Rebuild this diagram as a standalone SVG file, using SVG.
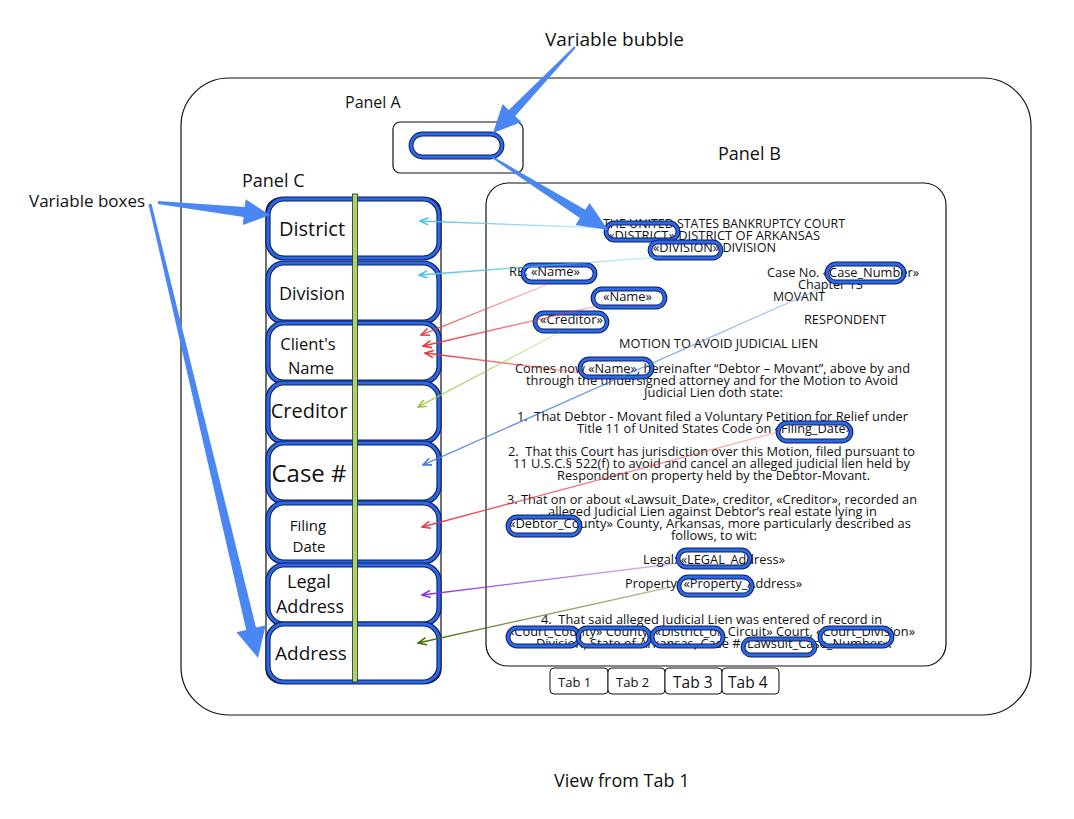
<svg xmlns="http://www.w3.org/2000/svg" width="1074" height="819" viewBox="0 0 1074 819">
<style>
text{font-family:"Open Sans","Noto Sans","Liberation Sans",sans-serif;fill:#111}
.lbl{font-size:18px}
.doc{font-size:12.5px}
.frame{fill:#fff;stroke:#111;stroke-width:1.2}
.bo{fill:none;stroke:#0b1f5e;stroke-width:4.8}
.bi{fill:none;stroke:#2f68e6;stroke-width:2.8}
.vbo{fill:#fff;stroke:#0b1f5e;stroke-width:5.2}
.vbi{fill:none;stroke:#2d66e2;stroke-width:3}
.big{fill:#4b87f2}
.tab{fill:#fff;stroke:#111;stroke-width:1}
.cn{fill:none;stroke-width:1.3}
</style>
<defs>
<linearGradient id="gLb" x1="0" y1="0" x2="1" y2="0"><stop offset="0" stop-color="#4fc3e8"/><stop offset="1" stop-color="#4fc3e8" stop-opacity="0.25"/></linearGradient>
<linearGradient id="gRd" x1="0" y1="0" x2="1" y2="0"><stop offset="0" stop-color="#e8383f"/><stop offset="1" stop-color="#e8383f" stop-opacity="0.3"/></linearGradient>
<linearGradient id="gGn" x1="0" y1="0" x2="1" y2="0"><stop offset="0" stop-color="#9cc63c"/><stop offset="1" stop-color="#9cc63c" stop-opacity="0.3"/></linearGradient>
<linearGradient id="gBl" x1="0" y1="0" x2="1" y2="0"><stop offset="0" stop-color="#3f76e0"/><stop offset="1" stop-color="#3f76e0" stop-opacity="0.3"/></linearGradient>
<linearGradient id="gPu" x1="0" y1="0" x2="1" y2="0"><stop offset="0" stop-color="#8e2fe0"/><stop offset="1" stop-color="#8e2fe0" stop-opacity="0.3"/></linearGradient>
<linearGradient id="gOl" x1="0" y1="0" x2="1" y2="0"><stop offset="0" stop-color="#466f0c"/><stop offset="1" stop-color="#466f0c" stop-opacity="0.35"/></linearGradient>
<marker id="mLb" markerUnits="userSpaceOnUse" markerWidth="12" markerHeight="12" viewBox="-9 -5 10 10" refX="0" refY="0" orient="auto"><path d="M-7,-3 L0,0 L-7,3" fill="none" stroke="#4fc3e8" stroke-width="1.3"/></marker>
<marker id="mRd" markerUnits="userSpaceOnUse" markerWidth="12" markerHeight="12" viewBox="-9 -5 10 10" refX="0" refY="0" orient="auto"><path d="M-7,-3 L0,0 L-7,3" fill="none" stroke="#e8383f" stroke-width="1.3"/></marker>
<marker id="mGn" markerUnits="userSpaceOnUse" markerWidth="12" markerHeight="12" viewBox="-9 -5 10 10" refX="0" refY="0" orient="auto"><path d="M-7,-3 L0,0 L-7,3" fill="none" stroke="#9cc63c" stroke-width="1.3"/></marker>
<marker id="mBl" markerUnits="userSpaceOnUse" markerWidth="12" markerHeight="12" viewBox="-9 -5 10 10" refX="0" refY="0" orient="auto"><path d="M-7,-3 L0,0 L-7,3" fill="none" stroke="#3f76e0" stroke-width="1.3"/></marker>
<marker id="mPu" markerUnits="userSpaceOnUse" markerWidth="12" markerHeight="12" viewBox="-9 -5 10 10" refX="0" refY="0" orient="auto"><path d="M-7,-3 L0,0 L-7,3" fill="none" stroke="#8e2fe0" stroke-width="1.3"/></marker>
<marker id="mOl" markerUnits="userSpaceOnUse" markerWidth="12" markerHeight="12" viewBox="-9 -5 10 10" refX="0" refY="0" orient="auto"><path d="M-7,-3 L0,0 L-7,3" fill="none" stroke="#466f0c" stroke-width="1.3"/></marker>
</defs>
<rect width="1074" height="819" fill="#fff"/>

<g id="outer-frame">
<rect class="frame" x="181" y="78" width="850" height="637" rx="48"/>
</g>

<g id="panel-a">
<text class="lbl" x="345" y="108" style="font-size:16px">Panel A</text>
<rect class="frame" x="393" y="122" width="130" height="51" rx="7"/>
<g id="variable-bubble-sample">
<rect class="bo" x="411" y="134" width="91" height="23" rx="11.5"/>
<rect class="bi" x="411" y="134" width="91" height="23" rx="11.5"/>
</g>
</g>

<g id="panel-b">
<text class="lbl" x="718" y="160">Panel B</text>
<rect class="frame" x="486" y="183" width="460" height="483" rx="22"/>
<g id="document-text" class="doc">
<text class="doc" x="603" y="228" textLength="242" lengthAdjust="spacingAndGlyphs">THE UNITED STATES BANKRUPTCY COURT</text>
<text class="doc" x="608" y="240" textLength="212" lengthAdjust="spacingAndGlyphs">«DISTRICT» DISTRICT OF ARKANSAS</text>
<text class="doc" x="653" y="252" textLength="123" lengthAdjust="spacingAndGlyphs">«DIVISION» DIVISION</text>
<text class="doc" x="509" y="276" textLength="71" lengthAdjust="spacingAndGlyphs">RE: «Name»</text>
<text class="doc" x="767" y="277" textLength="152" lengthAdjust="spacingAndGlyphs">Case No. «Case_Number»</text>
<text class="doc" x="798" y="289" textLength="65" lengthAdjust="spacingAndGlyphs">Chapter 13</text>
<text class="doc" x="603" y="301" textLength="49" lengthAdjust="spacingAndGlyphs">«Name»</text>
<text class="doc" x="773" y="301" textLength="52" lengthAdjust="spacingAndGlyphs">MOVANT</text>
<text class="doc" x="540" y="324" textLength="63" lengthAdjust="spacingAndGlyphs">«Creditor»</text>
<text class="doc" x="804" y="324" textLength="82" lengthAdjust="spacingAndGlyphs">RESPONDENT</text>
<text class="doc" x="619" y="348" textLength="199" lengthAdjust="spacingAndGlyphs">MOTION TO AVOID JUDICIAL LIEN</text>
<text class="doc" x="515" y="373" textLength="395" lengthAdjust="spacingAndGlyphs">Comes now «Name», hereinafter “Debtor – Movant”, above by and</text>
<text class="doc" x="526" y="385" textLength="372" lengthAdjust="spacingAndGlyphs">through the undersigned attorney and for the Motion to Avoid</text>
<text class="doc" x="644" y="397" textLength="139" lengthAdjust="spacingAndGlyphs">Judicial Lien doth state:</text>
<text class="doc" x="517" y="421" textLength="391" lengthAdjust="spacingAndGlyphs" xml:space="preserve">1.  That Debtor - Movant filed a Voluntary Petition for Relief under</text>
<text class="doc" x="577" y="433" textLength="275" lengthAdjust="spacingAndGlyphs">Title 11 of United States Code on «Filing_Date»</text>
<text class="doc" x="508" y="456" textLength="407" lengthAdjust="spacingAndGlyphs" xml:space="preserve">2.  That this Court has jurisdiction over this Motion, filed pursuant to</text>
<text class="doc" x="513" y="468" textLength="397" lengthAdjust="spacingAndGlyphs">11 U.S.C.§ 522(f) to avoid and cancel an alleged judicial lien held by</text>
<text class="doc" x="557" y="480" textLength="313" lengthAdjust="spacingAndGlyphs">Respondent on property held by the Debtor-Movant.</text>
<text class="doc" x="507" y="504" textLength="410" lengthAdjust="spacingAndGlyphs">3. That on or about «Lawsuit_Date», creditor, «Creditor», recorded an</text>
<text class="doc" x="548" y="516" textLength="329" lengthAdjust="spacingAndGlyphs">alleged Judicial Lien against Debtor’s real estate lying in</text>
<text class="doc" x="509" y="528" textLength="402" lengthAdjust="spacingAndGlyphs">«Debtor_County» County, Arkansas, more particularly described as</text>
<text class="doc" x="671" y="540" textLength="86" lengthAdjust="spacingAndGlyphs">follows, to wit:</text>
<text class="doc" x="643" y="564" textLength="142" lengthAdjust="spacingAndGlyphs">Legal: «LEGAL_Address»</text>
<text class="doc" x="625" y="588" textLength="177" lengthAdjust="spacingAndGlyphs">Property: «Property_Address»</text>
<text class="doc" x="541" y="624" textLength="341" lengthAdjust="spacingAndGlyphs" xml:space="preserve">4.  That said alleged Judicial Lien was entered of record in</text>
<text class="doc" x="508" y="636" textLength="407" lengthAdjust="spacingAndGlyphs">«Court_County» County, «District_or_Circuit» Court, «Court_Division»</text>
<text class="doc" x="536" y="648" textLength="356" lengthAdjust="spacingAndGlyphs">Division, State of Arkansas, Case #«Lawsuit_Case_Number».</text>
</g>
<g id="document-bubbles">
<rect class="bo" x="606" y="223" width="72" height="17" rx="8.5"/><rect class="bi" x="606" y="223" width="72" height="17" rx="8.5"/>
<rect class="bo" x="650" y="242" width="71" height="16" rx="8"/><rect class="bi" x="650" y="242" width="71" height="16" rx="8"/>
<rect class="bo" x="523" y="265" width="72" height="17" rx="8.5"/><rect class="bi" x="523" y="265" width="72" height="17" rx="8.5"/>
<rect class="bo" x="827" y="264" width="77" height="18" rx="9"/><rect class="bi" x="827" y="264" width="77" height="18" rx="9"/>
<rect class="bo" x="593" y="289" width="72" height="18" rx="9"/><rect class="bi" x="593" y="289" width="72" height="18" rx="9"/>
<rect class="bo" x="535" y="313" width="72" height="18" rx="9"/><rect class="bi" x="535" y="313" width="72" height="18" rx="9"/>
<rect class="bo" x="580" y="359" width="72" height="18" rx="9"/><rect class="bi" x="580" y="359" width="72" height="18" rx="9"/>
<rect class="bo" x="778" y="423" width="73" height="18" rx="9"/><rect class="bi" x="778" y="423" width="73" height="18" rx="9"/>
<rect class="bo" x="508" y="517" width="72" height="18" rx="9"/><rect class="bi" x="508" y="517" width="72" height="18" rx="9"/>
<rect class="bo" x="678" y="550" width="72" height="17" rx="8.5"/><rect class="bi" x="678" y="550" width="72" height="17" rx="8.5"/>
<rect class="bo" x="679" y="577" width="73" height="18" rx="9"/><rect class="bi" x="679" y="577" width="73" height="18" rx="9"/>
<rect class="bo" x="508" y="628" width="71" height="18" rx="9"/><rect class="bi" x="508" y="628" width="71" height="18" rx="9"/>
<rect class="bo" x="578" y="628" width="72" height="18" rx="9"/><rect class="bi" x="578" y="628" width="72" height="18" rx="9"/>
<rect class="bo" x="652" y="628" width="71" height="18" rx="9"/><rect class="bi" x="652" y="628" width="71" height="18" rx="9"/>
<rect class="bo" x="820" y="628" width="72" height="18" rx="9"/><rect class="bi" x="820" y="628" width="72" height="18" rx="9"/>
<rect class="bo" x="743" y="639" width="72" height="16" rx="8"/><rect class="bi" x="743" y="639" width="72" height="16" rx="8"/>
</g>
</g>

<g id="tabs">
<g id="tab-1"><rect class="tab" x="550" y="668" width="58" height="26" rx="4"/><text x="558" y="687" style="font-size:13px">Tab 1</text></g>
<g id="tab-2"><rect class="tab" x="608" y="668" width="57" height="26" rx="4"/><text x="616" y="687" style="font-size:13px">Tab 2</text></g>
<g id="tab-3"><rect class="tab" x="665" y="668" width="57" height="26" rx="4"/><text x="673" y="688" style="font-size:15.5px">Tab 3</text></g>
<g id="tab-4"><rect class="tab" x="722" y="668" width="57" height="26" rx="4"/><text x="728" y="688" style="font-size:15.5px">Tab 4</text></g>
</g>

<g id="panel-c">
<text class="lbl" x="242" y="187">Panel C</text>
<rect class="frame" x="266" y="198" width="175" height="485" rx="14"/>
<g id="box-district"><rect class="vbo" x="268" y="199" width="171" height="59" rx="16"/><rect class="vbi" x="268" y="199" width="171" height="59" rx="16"/><text x="312" y="236" text-anchor="middle" style="font-size:20px">District</text></g>
<g id="box-division"><rect class="vbo" x="268" y="263" width="171" height="59" rx="16"/><rect class="vbi" x="268" y="263" width="171" height="59" rx="16"/><text x="312" y="300" text-anchor="middle" style="font-size:18px">Division</text></g>
<g id="box-clients-name"><rect class="vbo" x="268" y="323" width="171" height="59" rx="16"/><rect class="vbi" x="268" y="323" width="171" height="59" rx="16"/><text x="308" y="350" text-anchor="middle" style="font-size:16.5px">Client's</text><text x="311" y="374" text-anchor="middle" style="font-size:16.5px">Name</text></g>
<g id="box-creditor"><rect class="vbo" x="268" y="383" width="171" height="59" rx="16"/><rect class="vbi" x="268" y="383" width="171" height="59" rx="16"/><text x="309" y="418" text-anchor="middle" style="font-size:20px">Creditor</text></g>
<g id="box-case"><rect class="vbo" x="268" y="443" width="171" height="59" rx="16"/><rect class="vbi" x="268" y="443" width="171" height="59" rx="16"/><text x="309" y="482" text-anchor="middle" style="font-size:24px">Case #</text></g>
<g id="box-filing-date"><rect class="vbo" x="268" y="503" width="171" height="59" rx="16"/><rect class="vbi" x="268" y="503" width="171" height="59" rx="16"/><text x="308" y="531" text-anchor="middle" style="font-size:15px">Filing</text><text x="309" y="552" text-anchor="middle" style="font-size:15px">Date</text></g>
<g id="box-legal-address"><rect class="vbo" x="268" y="565" width="171" height="59" rx="16"/><rect class="vbi" x="268" y="565" width="171" height="59" rx="16"/><text x="309" y="588" text-anchor="middle" style="font-size:18px">Legal</text><text x="310" y="613" text-anchor="middle" style="font-size:18px">Address</text></g>
<g id="box-address"><rect class="vbo" x="268" y="624" width="171" height="58" rx="16"/><rect class="vbi" x="268" y="624" width="171" height="58" rx="16"/><text x="311" y="660" text-anchor="middle" style="font-size:19px">Address</text></g>
<rect id="divider-bar" x="352.5" y="194" width="5" height="488" fill="#a9d46b" stroke="#2a2a2a" stroke-width="0.8"/>
</g>

<g id="connectors">
<line class="cn" x1="607" y1="228" x2="420" y2="221" stroke="url(#gLb)" marker-end="url(#mLb)"/>
<line class="cn" x1="662" y1="257" x2="419" y2="275" stroke="url(#gLb)" marker-end="url(#mLb)"/>
<line class="cn" x1="546" y1="285" x2="421" y2="335" stroke="url(#gRd)" marker-end="url(#mRd)"/>
<line class="cn" x1="597" y1="306" x2="423" y2="346" stroke="url(#gRd)" marker-end="url(#mRd)"/>
<line class="cn" x1="583" y1="373" x2="425" y2="353" stroke="url(#gRd)" marker-end="url(#mRd)"/>
<line class="cn" x1="560" y1="332" x2="418" y2="407" stroke="url(#gGn)" marker-end="url(#mGn)"/>
<line class="cn" x1="835" y1="282" x2="423" y2="465" stroke="url(#gBl)" marker-end="url(#mBl)"/>
<line class="cn" x1="778" y1="432" x2="422" y2="527" stroke="url(#gRd)" marker-end="url(#mRd)"/>
<line class="cn" x1="680" y1="563" x2="422" y2="595" stroke="url(#gPu)" marker-end="url(#mPu)"/>
<line class="cn" x1="680" y1="585" x2="418" y2="643" stroke="url(#gOl)" marker-end="url(#mOl)"/>
</g>

<g id="callouts">
<text class="lbl" x="545" y="46" style="font-size:19px">Variable bubble</text>
<text class="lbl" x="29" y="207" style="font-size:17px">Variable boxes</text>
<polygon class="big" points="575.7,47.7 515.2,116.1 521.4,122 493,133 502.6,104 508.8,109.9 574.3,46.3"/>
<polygon class="big" points="491.5,157.8 579.9,218.1 575.6,224.9 608,230 589.6,202.9 585.3,209.7 492.5,156.2"/>
<polygon class="big" points="157.8,204 243.6,217.1 242.8,225 270,215 245.6,199.2 244.8,207.1 158.2,201"/>
<polygon class="big" points="148.5,204.3 246.2,630 236.5,632.3 258,658 265.7,625.3 256,627.6 151.5,203.7"/>
</g>

<text class="lbl" x="554" y="787">View from Tab 1</text>
</svg>
